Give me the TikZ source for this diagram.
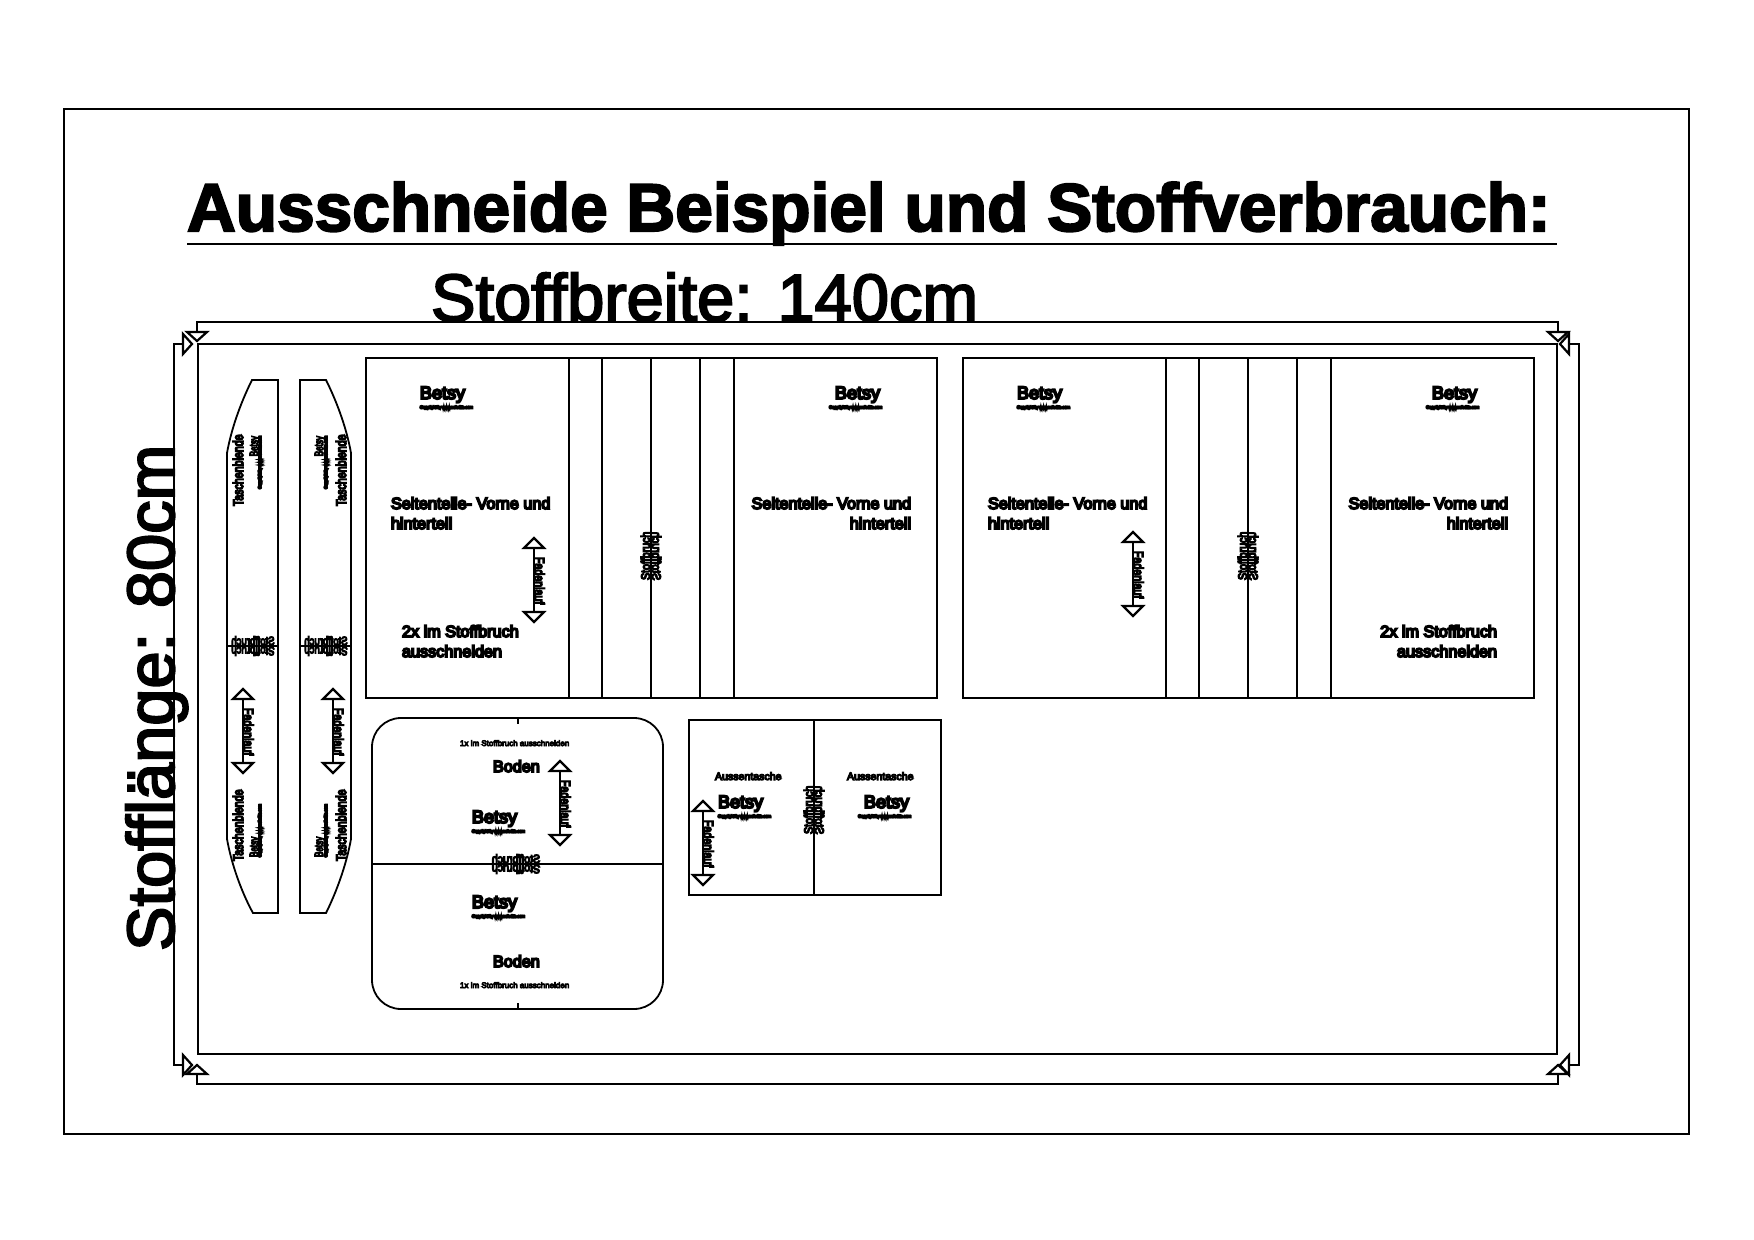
\documentclass[tikz,border=0pt]{standalone}
\usepackage{fontspec}
\newfontfamily\cadfont[FakeBold=11]{Liberation Sans}
\newfontfamily\finefont[FakeBold=50]{Liberation Sans}
\newfontfamily\wordfont[FakeBold=3]{Liberation Sans}
\newfontfamily\headfont[UprightFont=* Bold,FakeBold=3]{Liberation Sans}
\newcommand{\cadsize}[1]{\fontsize{#1}{#1}\selectfont}

\begin{document}
\begin{tikzpicture}[x=.5pt,y=-.5pt,line width=.9pt]
	\tikzset{every node/.style={inner sep=0pt,outer sep=0pt}}
	\tikzset{parttext/.style={anchor=base west,font=\cadfont\cadsize{8.1}}}
	\tikzset{partright/.style={parttext,anchor=base east}}
	\tikzset{sidetext/.style={anchor=base west,font=\cadfont\cadsize{7}}}
	\tikzset{sideright/.style={sidetext,anchor=base east}}
	\tikzset{finetext/.style={anchor=base west,font=\finefont\cadsize{1.9}}}
	\tikzset{fineright/.style={finetext,anchor=base east}}
	\tikzset{bigtext/.style={anchor=base west,font=\wordfont\cadsize{33.4}}}
	\tikzset{tiptri/.style={line width=1.1pt,line join=miter}}
	\tikzset{betsyleft/.pic={
		\node[parttext,font=\cadfont\cadsize{9}] (-word) at (0,0) {Betsy};
		\node[finetext] (-fine) at (0,9.5) {Copyright by www.schnitte.com};
	}}
	\tikzset{betsyright/.pic={
		\node[partright,font=\cadfont\cadsize{9}] (-word) at (-1,0) {Betsy};
		\node[fineright] (-fine) at (1,9.5) {Copyright by www.schnitte.com};
	}}
	\tikzset{grainarrow/.pic={
		\draw[tiptri] (0,0) -- (10,10) -- (-10,10) -- cycle;
		\draw[tiptri] (0,84) -- (10,74) -- (-10,74) -- cycle;
		\draw (0,10) -- (0,74);
		\node[sidetext,rotate=-90] (-word) at (.5,19) {\scalebox{.76}[1]{Fadenlauf}};
	}}
	\useasboundingbox (0,0) rectangle (1754,1240);

	\draw (64,109) rectangle (1689,1134);
	\draw (198,344) rectangle (1557,1054);
	\node[anchor=base west,font=\headfont\cadsize{33.8}] (title) at (187,231) {Ausschneide Beispiel und Stoffverbrauch:};
	\draw (187,244) -- (1557,244);
	\node[bigtext] (breite) at (431,321) {Stoffbreite: 140cm};
	\node[bigtext,rotate=90] (laenge) at (174,951) {Stofflänge: 80cm};

	\draw (197,332) -- (197,322) -- (1558,322) -- (1558,332);
	\draw (197,1074) -- (197,1084) -- (1558,1084) -- (1558,1074);
	\draw (183,344) -- (174,344) -- (174,1065) -- (183,1065);
	\draw (1569,344) -- (1579,344) -- (1579,1065) -- (1569,1065);
	\foreach \x in {197,1558} {
		\draw[tiptri] (\x-10,332) -- (\x+10,332) -- (\x,341) -- cycle;
		\draw[tiptri] (\x-10,1074) -- (\x+10,1074) -- (\x,1065) -- cycle;
	}
	\foreach \y in {344,1065} {
		\draw[tiptri] (183,\y-10) -- (183,\y+10) -- (192,\y) -- cycle;
		\draw[tiptri] (1569,\y-10) -- (1569,\y+10) -- (1560,\y) -- cycle;
	}

	\draw (278,380) -- (252,380) .. controls (243,398) and (232,425) .. (227,453) -- (227,839)
		.. controls (232,867) and (243,895) .. (253,913) -- (278,913) -- cycle;
	\draw (300,380) -- (326,380) .. controls (335,398) and (346,425) .. (351,453) -- (351,839)
		.. controls (346,867) and (335,895) .. (326,913) -- (300,913) -- cycle;
	\draw (227,646) -- (278,646);
	\draw (300,646) -- (351,646);
	\foreach \nm/\tx/\bx/\fx/\ax in {a/243/258/261/243,b/346/323/327/333} {
		\node[sidetext,rotate=90] (blende\nm1) at (\tx,506) {\scalebox{.76}[1]{Taschenblende}};
		\node[sidetext,rotate=90] (blende\nm2) at (\tx,861) {\scalebox{.76}[1]{Taschenblende}};
		\node[sideright,rotate=90] (betsy\nm1) at (\bx,436) {\scalebox{.58}[.85]{Betsy}};
		\node[fineright,rotate=90] (fine\nm1) at (\fx,436) {Copyright by www.schnitte.com};
		\node[sidetext,rotate=90] (betsy\nm2) at (\bx,857) {\scalebox{.58}[.85]{Betsy}};
		\node[finetext,rotate=90] (fine\nm2) at (\fx,857) {Copyright by www.schnitte.com};
		\pic (grain\nm) at (\ax,689) {grainarrow};
	}

	\foreach \nm/\dx in {a/0,b/597} {
		\draw (366+\dx,358) rectangle (937+\dx,698);
		\foreach \x in {569,602,651,700,734} {
			\draw (\x+\dx,358) -- (\x+\dx,698);
		}
		\pic (logo\nm1) at (420+\dx,399) {betsyleft};
		\pic (logo\nm2) at (881+\dx,399) {betsyright};
		\node[parttext] (seite\nm1) at (391+\dx,509) {Seitenteile- Vorne und};
		\node[parttext] (seite\nm2) at (391+\dx,529) {hinterteil};
		\node[partright] (seite\nm3) at (911+\dx,509) {Seitenteile- Vorne und};
		\node[partright] (seite\nm4) at (911+\dx,529) {hinterteil};
	}
	\pic (grainc) at (534,538) {grainarrow};
	\pic (graind) at (1133,532) {grainarrow};
	\node[parttext] (zweia1) at (402,637) {2x im Stoffbruch};
	\node[parttext] (zweia2) at (402,657) {ausschneiden};
	\node[partright] (zweib1) at (1497,637) {2x im Stoffbruch};
	\node[partright] (zweib2) at (1497,657) {ausschneiden};

	\foreach \nm/\x/\y in {a/651/580,b/1248/580,c/814/834} {
		\node[sidetext,rotate=90] (bruch\nm1) at (\x-1,\y) {\scalebox{.76}[.9]{Stoffbruch}};
		\node[sidetext,rotate=-90] (bruch\nm2) at (\x+1,\y-48) {\scalebox{-.76}[.9]{Stoffbruch}};
	}

	\draw[rounded corners=14.5pt] (372,718) rectangle (663,1009);
	\draw (372,864) -- (663,864);
	\draw (518,718) -- (518,724);
	\draw (518,1003) -- (518,1009);
	\node[parttext,font=\cadfont\cadsize{4}] (einsa) at (460,746) {1x im Stoffbruch ausschneiden};
	\node[parttext,font=\cadfont\cadsize{4}] (einsb) at (460,988) {1x im Stoffbruch ausschneiden};
	\node[parttext] (bodena) at (493,772) {Boden};
	\node[parttext] (bodenb) at (493,967) {Boden};
	\pic (logoc) at (472,823) {betsyleft};
	\pic (logod) at (472,908) {betsyleft};
	\pic (graine) at (560,761) {grainarrow};

	\foreach \nm/\cx/\ly/\sq in {a/253/646/.68,b/326/646/.68,c/516/864/.76} {
		\node[sidetext,anchor=base] (falt\nm1) at (\cx,\ly-1) {\scalebox{-\sq}[.85]{Stoffbruch}};
		\node[sidetext,anchor=base,rotate=180] (falt\nm2) at (\cx,\ly+1) {\scalebox{\sq}[.85]{Stoffbruch}};
	}

	\draw (689,720) rectangle (941,895);
	\draw (814,720) -- (814,895);
	\node[parttext,font=\cadfont\cadsize{5.3}] (aussena) at (715,780) {Aussentasche};
	\node[parttext,font=\cadfont\cadsize{5.3}] (aussenb) at (847,780) {Aussentasche};
	\pic (logoe) at (718,808) {betsyleft};
	\pic (logof) at (910,808) {betsyright};
	\pic (grainf) at (703,801) {grainarrow};
\end{tikzpicture}
\end{document}
